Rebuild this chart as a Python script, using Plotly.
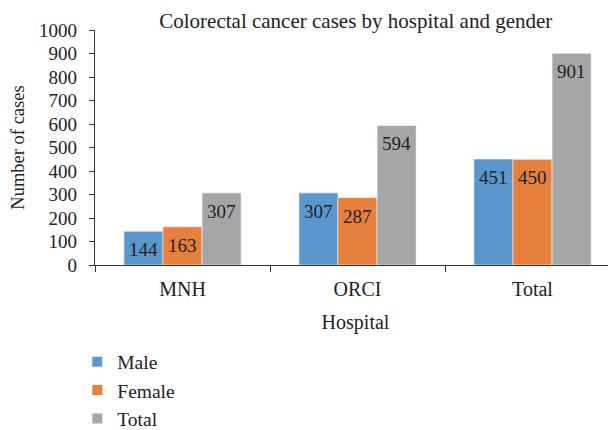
import plotly.graph_objects as go

categories = ["MNH", "ORCI", "Total"]
male = [144, 307, 451]
female = [163, 287, 450]
total = [307, 594, 901]
series_names = ["Male", "Female", "Total"]
colors = ["#5B97CD", "#E77F3D", "#A6A6A8"]

FONT = "Liberation Serif"
TXT = "#222222"
BARGAP = 0.33

series = [male, female, total]
fig = go.Figure()
for name, vals, col in zip(series_names, series, colors):
    fig.add_trace(go.Bar(
        x=categories, y=vals, name=name, marker_color=col,
        marker_line=dict(color="rgba(255,255,255,0.55)", width=1),
        showlegend=False,
    ))
# legend entries (small square swatches)
for name, col in zip(series_names, colors):
    fig.add_trace(go.Scatter(
        x=[None], y=[None], mode="markers", name=name,
        marker=dict(symbol="square", size=10, color=col),
    ))

# value labels inside the top of each bar
bw = (1 - BARGAP) / len(series)
annotations = []
for j, vals in enumerate(series):
    for i, v in enumerate(vals):
        annotations.append(dict(
            x=i + (j - (len(series) - 1) / 2) * bw, y=v, xref="x", yref="y",
            text=str(v), showarrow=False, yanchor="top", yshift=-6,
            font=dict(family=FONT, size=19, color=TXT),
        ))

fig.update_layout(
    width=608, height=422,
    paper_bgcolor="white", plot_bgcolor="white",
    barmode="group", bargap=BARGAP, bargroupgap=0.0,
    margin=dict(l=87, r=0, t=22, b=165, autoexpand=False),
    font=dict(family=FONT, size=18, color=TXT),
    title=dict(text="Colorectal cancer cases by hospital and gender",
               x=0.572, xanchor="center", y=0.97, yanchor="middle",
               font=dict(family=FONT, size=21, color=TXT)),
    legend=dict(orientation="v", x=-0.034, xanchor="left", y=-0.33, yanchor="top",
                font=dict(family=FONT, size=19.5, color=TXT), tracegroupgap=0,
                itemwidth=30),
    annotations=annotations,
)
fig.update_xaxes(
    range=[-0.5, 2.477],
    showline=True, linecolor="#333333", linewidth=1.2,
    ticks="outside", tickson="boundaries", ticklen=6, tickcolor="#333333",
    tickfont=dict(family=FONT, size=20, color=TXT), ticklabelstandoff=6,
    automargin=False,
    title=dict(text="Hospital", font=dict(family=FONT, size=20, color=TXT)),
)
fig.update_yaxes(
    range=[0, 1000], dtick=100, showgrid=False, zeroline=False,
    showline=True, linecolor="#333333", linewidth=1.2,
    ticks="outside", ticklen=5, tickcolor="#333333",
    tickfont=dict(family=FONT, size=19, color=TXT), ticklabelstandoff=8,
    automargin=False,
    title=dict(text="Number of cases", font=dict(family=FONT, size=18.5, color=TXT)),
)

fig.write_html("out.html")
